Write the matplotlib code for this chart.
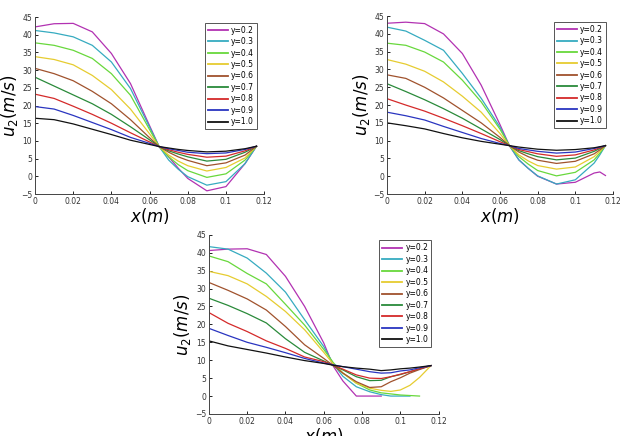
import numpy as np
import matplotlib
matplotlib.use("Agg")
import matplotlib.pyplot as plt

nan = np.nan
labels = ["y=0.2", "y=0.3", "y=0.4", "y=0.5", "y=0.6", "y=0.7", "y=0.8", "y=0.9", "y=1.0"]
colors = ["#b232b2", "#36abc0", "#68d83c", "#e6cc30", "#a0522d",
          "#2a8a3a", "#d42a2a", "#2a35c0", "#111111"]

# panel (a)
x_a = [0, .01, .02, .03, .04, .05, .06, .065, .07, .075, .08, .09, .1, .11, .116]
u_a = [
    [42.2, 43.1, 43.2, 40.8, 34.7, 26.2, 14.3, 8.4, 5.5, 2.3, -0.6, -4.1, -2.9, 3.6, 8.5],
    [41.2, 40.5, 39.4, 37.0, 32.3, 24.8, 13.9, 8.4, 4.6, 2.0, -0.1, -2.5, -1.5, 3.6, 8.5],
    [37.7, 37.0, 35.6, 33.3, 29.0, 22.9, 13.2, 8.4, 5.5, 3.3, 1.6, -0.3, 0.7, 4.6, 8.5],
    [33.8, 33.0, 31.5, 28.5, 24.5, 19.0, 12.0, 8.4, 6.0, 4.3, 3.0, 1.5, 2.5, 5.2, 8.5],
    [30.5, 29.0, 27.0, 24.0, 20.5, 16.0, 10.9, 8.4, 6.8, 5.5, 4.5, 3.0, 3.8, 6.0, 8.5],
    [28.0, 25.5, 23.0, 20.5, 17.5, 14.0, 10.3, 8.4, 7.2, 6.3, 5.5, 4.3, 4.8, 6.8, 8.5],
    [23.2, 22.0, 19.8, 17.5, 15.0, 12.3, 9.7, 8.4, 7.5, 6.8, 6.2, 5.4, 5.7, 7.2, 8.5],
    [19.7, 19.0, 17.2, 15.2, 13.2, 11.0, 9.3, 8.4, 7.8, 7.3, 6.8, 6.4, 6.6, 7.6, 8.5],
    [16.4, 16.0, 14.8, 13.3, 11.8, 10.2, 9.0, 8.4, 8.0, 7.6, 7.3, 6.9, 7.1, 7.8, 8.5],
]

# panel (b)
x_b = [0, .01, .02, .03, .04, .05, .06, .065, .07, .075, .08, .09, .1, .11, .113, .116]
u_b = [
    [43.0, 43.3, 42.9, 40.0, 34.5, 25.6, 14.5, 8.6, 4.6, 2.2, 0.0, -2.2, -1.7, 0.9, 1.2, 0.2],
    [41.9, 40.8, 38.2, 35.4, 28.9, 21.9, 13.8, 8.6, 4.6, 2.2, 0.1, -2.2, -1.0, 3.7, 6.0, 8.6],
    [37.4, 36.8, 34.9, 32.1, 27.0, 20.9, 13.2, 8.6, 5.5, 3.4, 1.6, 0.1, 1.1, 4.6, 6.5, 8.6],
    [32.8, 31.5, 29.5, 26.5, 22.5, 18.0, 12.0, 8.6, 6.0, 4.3, 3.0, 2.0, 2.6, 5.5, 7.0, 8.6],
    [28.5, 27.5, 25.0, 22.0, 18.5, 15.0, 10.9, 8.6, 6.8, 5.5, 4.5, 3.6, 4.2, 6.3, 7.4, 8.6],
    [26.0, 23.8, 21.5, 19.0, 16.3, 13.3, 10.3, 8.6, 7.2, 6.3, 5.5, 4.6, 5.1, 7.0, 7.8, 8.6],
    [21.8, 20.0, 18.3, 16.3, 14.2, 12.0, 9.7, 8.6, 7.5, 6.9, 6.3, 5.6, 6.0, 7.4, 8.0, 8.6],
    [18.0, 17.0, 15.8, 14.0, 12.3, 10.6, 9.2, 8.6, 7.8, 7.4, 7.0, 6.5, 6.8, 7.8, 8.2, 8.6],
    [15.0, 14.2, 13.3, 12.0, 10.8, 9.8, 9.0, 8.6, 8.2, 7.9, 7.6, 7.3, 7.5, 8.0, 8.3, 8.6],
]

# panel (c)
x_c = [0, .01, .02, .03, .04, .05, .06, .065, .07, .077, .084, .09, .095, .1, .105, .11, .116]
u_c = [
    [40.6, 41.0, 41.1, 39.5, 33.4, 25.0, 14.8, 8.3, 4.2, 0.0, 0.0, 0.0, nan, nan, nan, nan, nan],
    [41.7, 41.0, 38.5, 34.3, 29.0, 21.3, 13.8, 8.9, 5.5, 2.6, 1.2, 0.4, 0.0, 0.0, 0.0, nan, nan],
    [39.1, 37.5, 34.2, 31.3, 25.6, 19.8, 13.0, 9.3, 6.4, 3.6, 1.7, 0.9, 0.6, 0.3, 0.15, 0.0, nan],
    [34.8, 33.6, 31.3, 27.8, 23.6, 18.5, 12.2, 8.9, 6.4, 3.6, 2.2, 1.6, 1.3, 1.7, 3.0, 5.2, 8.5],
    [31.7, 29.5, 27.1, 24.0, 19.4, 14.3, 10.5, 8.5, 6.4, 4.0, 2.4, 2.6, 4.0, 5.1, 6.4, 7.4, 8.5],
    [27.3, 25.3, 23.0, 20.4, 16.0, 12.2, 9.8, 8.5, 7.3, 5.4, 4.3, 4.4, 5.4, 6.0, 6.8, 7.6, 8.5],
    [23.3, 20.3, 18.0, 15.4, 13.3, 10.9, 9.6, 8.6, 7.5, 5.9, 5.0, 4.9, 5.4, 6.1, 6.8, 7.6, 8.5],
    [18.9, 16.9, 15.0, 13.6, 12.1, 10.5, 9.2, 8.7, 8.2, 7.5, 6.8, 6.4, 6.5, 7.0, 7.3, 7.9, 8.5],
    [15.4, 14.0, 13.0, 12.0, 10.9, 9.9, 9.1, 8.6, 8.2, 7.8, 7.5, 7.1, 7.3, 7.6, 7.8, 8.1, 8.5],
]

fig = plt.figure(figsize=(6.33, 4.36), dpi=100)
boxes = [[0.0553, 0.555, 0.362, 0.406],
         [0.6114, 0.555, 0.357, 0.408],
         [0.330, 0.0505, 0.363, 0.411]]

for box, xs, us in zip(boxes, [x_a, x_b, x_c], [u_a, u_b, u_c]):
    ax = fig.add_axes(box)
    for u, c, lab in zip(us, colors, labels):
        ax.plot(xs, u, color=c, lw=0.9, label=lab)
    ax.set_xlim(0, 0.12)
    ax.set_ylim(-5, 45)
    ax.set_xticks([0, 0.02, 0.04, 0.06, 0.08, 0.1, 0.12])
    ax.set_xticklabels(["0", "0.02", "0.04", "0.06", "0.08", "0.1", "0.12"])
    ax.set_yticks(range(-5, 46, 5))
    ax.tick_params(direction="in", length=2.5, width=0.6, labelsize=5.5,
                   labelcolor="#333333", pad=2)
    for s in ["top", "right"]:
        ax.spines[s].set_visible(False)
    for s in ["left", "bottom"]:
        ax.spines[s].set_linewidth(0.7)
        ax.spines[s].set_color("#444444")
    ax.set_xlabel("$x(m)$", fontsize=12, labelpad=0)
    ax.set_ylabel("$u_2(m/s)$", fontsize=12, labelpad=1)
    leg = ax.legend(loc="upper right", bbox_to_anchor=(0.985, 0.99), fontsize=5.5,
                    handlelength=2.6, labelspacing=0.32, borderpad=0.4,
                    handletextpad=0.4, fancybox=False, framealpha=1)
    leg.get_frame().set_edgecolor("#555555")
    leg.get_frame().set_linewidth(0.7)
    for line in leg.get_lines():
        line.set_linewidth(1.3)

fig.savefig("out.png", dpi=100)
